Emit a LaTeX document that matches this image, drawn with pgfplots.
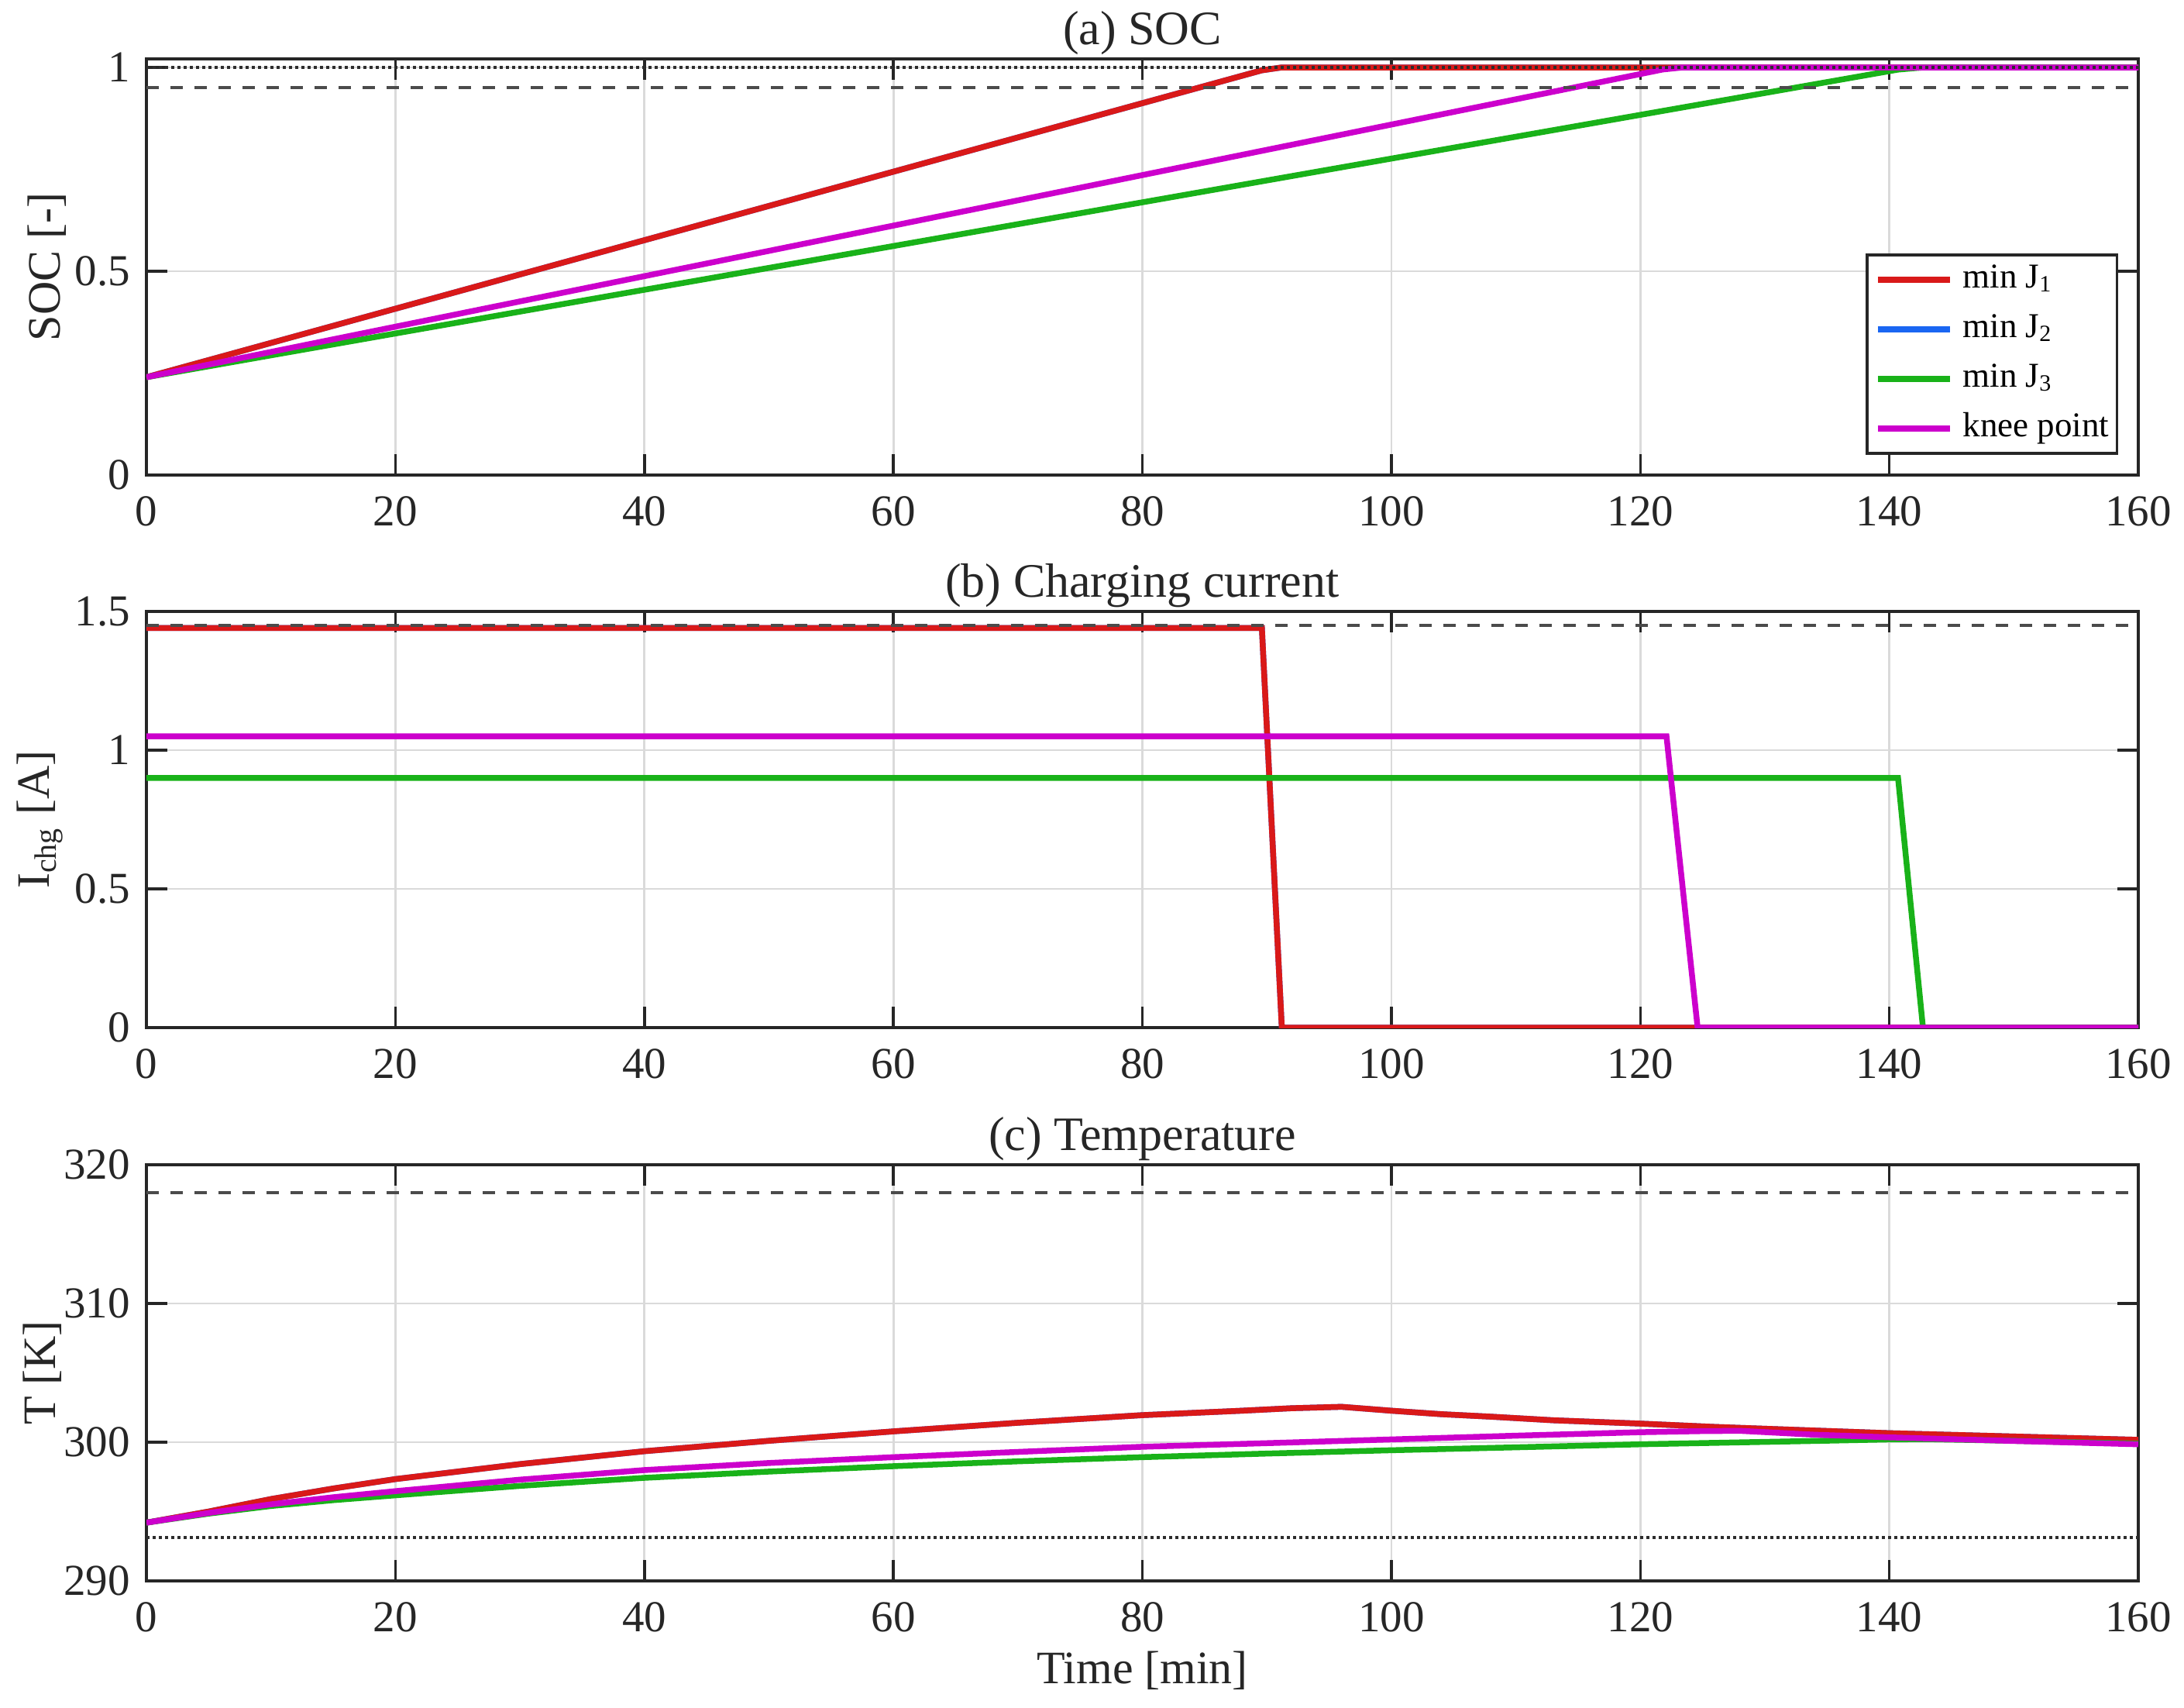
\documentclass[border=0pt]{standalone}
\usepackage{fontspec}
\setmainfont{Liberation Serif}
\usepackage{pgfplots}
\pgfplotsset{compat=1.18}
\definecolor{cred}{RGB}{217,25,25}
\definecolor{cblue}{RGB}{26,102,242}
\definecolor{cgreen}{RGB}{25,178,25}
\definecolor{cmag}{RGB}{204,0,204}
\definecolor{axc}{RGB}{38,38,38}
\definecolor{gridc}{RGB}{218,218,218}
\definecolor{limc}{RGB}{75,75,75}
\definecolor{dotc}{RGB}{45,45,45}
\pgfplotsset{
 panel/.style={
  scale only axis, width=514.2pt, height=107.4pt,
  xmin=0, xmax=160, xtick={0,20,...,160},
  axis line style={line width=0.7pt, color=axc},
  every tick/.style={line width=0.7pt, color=axc},
  tick align=inside, major tick length=5.4pt,
  grid=major, major grid style={line width=0.55pt, color=gridc},
  tick label style={font=\fontsize{11.4}{12}\selectfont, color=axc},
  /pgf/number format/assume math mode=true,
  xticklabel style={inner sep=0pt, yshift=-5.4pt},
  yticklabel style={inner sep=0pt, xshift=-4pt},
  every axis title/.style={font=\fontsize{12.4}{14}\selectfont, at={(axis description cs:0.5,1)}, anchor=base, yshift=3.7pt, inner sep=0pt, color=axc},
  label style={font=\fontsize{12}{14}\selectfont, color=axc},
  every axis plot/.append style={line width=1.5pt},
 },
 dashlim/.style={color=limc, line width=0.85pt, dash pattern=on 3.2pt off 3pt, forget plot},
 dotlim/.style={color=dotc, line width=0.8pt, dash pattern=on 0.8pt off 0.8pt, forget plot},
}
\begin{document}
\begin{tikzpicture}
\useasboundingbox (-37.8pt,15.2pt) rectangle (526pt,-425.6pt);
% (a) SOC
\begin{axis}[panel, at={(0,0)}, anchor=north west,
  ymin=0, ymax=1.021, ytick={0,0.5,1},
  title={(a) SOC},
  ylabel={SOC [-]},
  ylabel style={at={([xshift=-22.2pt]axis description cs:0,0.5)}, anchor=base},
  legend cell align=left,
  legend image code/.code={\draw[#1, line width=1.5pt] (0pt,0pt) -- (18.6pt,0pt); \path (21.2pt,0pt);},
  legend style={at={([xshift=-5.2pt,yshift=5.2pt]axis description cs:1,0)}, anchor=south east,
    font=\fontsize{9}{10}\selectfont, draw=axc, line width=0.7pt, inner xsep=2pt, inner ysep=0pt,
    row sep=0pt, nodes={inner xsep=0pt, inner ysep=1.5pt, text height=7pt, text depth=2.8pt}},
]
\addplot[cblue, forget plot] coordinates {(0,0.24) (89.6,0.993) (91.2,1.0) (160,1.0)};
\addplot[cred] coordinates {(0,0.24) (89.6,0.993) (91.2,1.0) (160,1.0)};
\addlegendentry{min J\textsubscript{1}}
\addlegendimage{cblue}
\addlegendentry{min J\textsubscript{2}}
\addplot[cgreen] coordinates {(0,0.24) (140.7,0.9947) (142.7,1.0) (160,1.0)};
\addlegendentry{min J\textsubscript{3}}
\addplot[cmag] coordinates {(0,0.24) (121.8,0.995) (123.4,1.0) (160,1.0)};
\addlegendentry{knee point}
\addplot[dotlim] coordinates {(0,1.0) (160,1.0)};
\addplot[dashlim] coordinates {(0,0.95) (160,0.95)};
\end{axis}
% (b) Charging current
\begin{axis}[panel, at={(0,-142.6pt)}, anchor=north west,
  ymin=0, ymax=1.5, ytick={0,0.5,1,1.5},
  title={(b) Charging current},
  ylabel={I\textsubscript{chg} [A]},
  ylabel style={at={([xshift=-25pt]axis description cs:0,0.5)}, anchor=base},
]
\addplot[cblue] coordinates {(0,1.44) (89.6,1.44) (91.2,0) (160,0)};
\addplot[cred] coordinates {(0,1.44) (89.6,1.44) (91.2,0) (160,0)};
\addplot[cgreen] coordinates {(0,0.9) (140.7,0.9) (142.7,0) (160,0)};
\addplot[cmag] coordinates {(0,1.05) (122.1,1.05) (124.6,0) (160,0)};
\addplot[dashlim] coordinates {(0,1.45) (160,1.45)};
\end{axis}
% (c) Temperature
\begin{axis}[panel, at={(0,-285.4pt)}, anchor=north west,
  ymin=290, ymax=320, ytick={290,300,310,320},
  title={(c) Temperature},
  ylabel={T [K]},
  ylabel style={at={([xshift=-23.5pt]axis description cs:0,0.5)}, anchor=base},
  xlabel={Time [min]},
  xlabel style={at={([yshift=-26.4pt]axis description cs:0.5,0)}, anchor=base},
]
\addplot[cblue] coordinates {(0,294.2) (5,295.0) (10,295.9) (15,296.66) (20,297.34) (30,298.42) (40,299.35) (50,300.1) (60,300.78) (70,301.4) (80,301.95) (88,302.27) (92,302.45) (96,302.55) (100,302.27) (104,302.02) (108,301.84) (113,301.58) (120,301.34) (126,301.1) (134,300.84) (140,300.65) (150,300.41) (160,300.17)};
\addplot[cred] coordinates {(0,294.2) (5,295.0) (10,295.9) (15,296.66) (20,297.34) (30,298.42) (40,299.35) (50,300.1) (60,300.78) (70,301.4) (80,301.95) (88,302.27) (92,302.45) (96,302.55) (100,302.27) (104,302.02) (108,301.84) (113,301.58) (120,301.34) (126,301.1) (134,300.84) (140,300.65) (150,300.41) (160,300.17)};
\addplot[cgreen] coordinates {(0,294.2) (5,294.85) (10,295.4) (15,295.82) (20,296.17) (30,296.85) (40,297.43) (50,297.88) (60,298.27) (70,298.62) (80,298.92) (90,299.18) (100,299.42) (110,299.63) (120,299.85) (134,300.09) (140,300.2) (143,300.22) (150,300.1) (160,299.9)};
\addplot[cmag] coordinates {(0,294.2) (5,294.9) (10,295.52) (15,296.03) (20,296.47) (30,297.3) (40,297.99) (50,298.5) (60,298.92) (70,299.3) (80,299.67) (90,299.93) (100,300.2) (110,300.47) (120,300.72) (125,300.8) (128,300.82) (134,300.54) (140,300.35) (150,300.09) (160,299.85)};
\addplot[dashlim] coordinates {(0,318) (160,318)};
\addplot[dotlim] coordinates {(0,293.15) (160,293.15)};
\end{axis}
\end{tikzpicture}
\end{document}
